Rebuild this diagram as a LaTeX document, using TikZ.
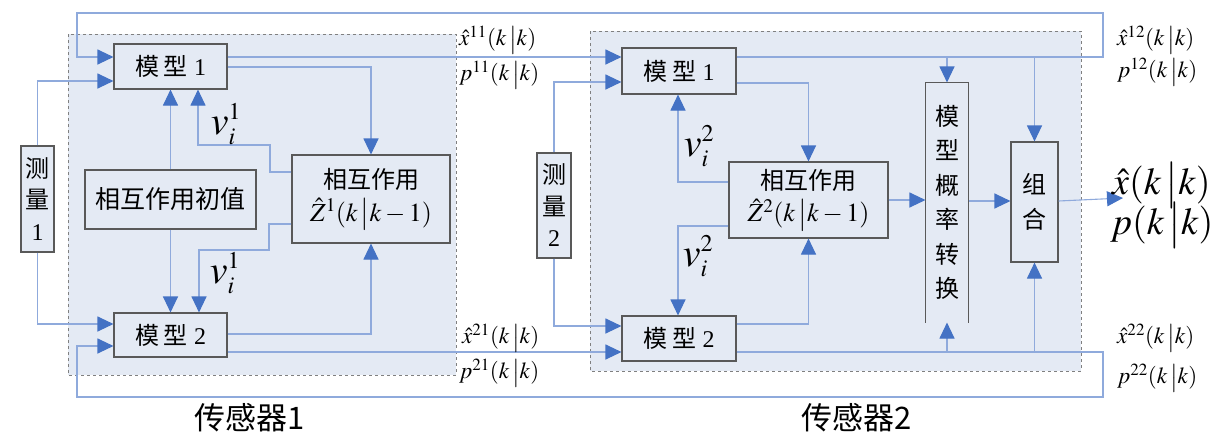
\documentclass[tikz,border=0pt]{standalone}
\usepackage{mathptmx}
\usepackage[no-math]{fontspec}
\setmainfont{Liberation Serif}
\newfontfamily\cjk{Noto Sans CJK SC}
\usetikzlibrary{arrows.meta}
\definecolor{lnblue}{HTML}{8FAADC}
\definecolor{arrblue}{HTML}{4472C4}
\definecolor{fillblue}{HTML}{E4EAF4}
\definecolor{boxgray}{HTML}{595959}
\definecolor{dashgray}{HTML}{808080}
\tikzset{
  ln/.style={draw=lnblue, line width=1.1pt},
  arr/.style={-{Triangle[length=16pt,width=15pt,color=arrblue]}},
  box/.style={draw=boxgray, line width=1.1pt, fill=fillblue, inner sep=0pt, align=center,
              font=\fontsize{24}{31.5}\selectfont},
  grp/.style={draw=dashgray, dashed, line width=1pt, fill=fillblue},
  lab/.style={anchor=west, inner sep=0pt, font=\fontsize{23}{23}\selectfont},
  biglab/.style={anchor=west, inner sep=0pt, font=\fontsize{38}{38}\selectfont},
  vlab/.style={inner sep=0pt, font=\fontsize{40}{40}\selectfont},
  sens/.style={inner sep=0pt, font=\cjk\fontsize{31}{31}\selectfont},
}
\begin{document}
\begin{tikzpicture}[x=1pt,y=-1pt]
\useasboundingbox (0,0) rectangle (1228,445);
% sensor groups
\draw[grp] (68,34) rectangle (456,375);
\draw[grp] (590,31) rectangle (1081,371);

% sensor 1 nodes
\node[box, minimum width=113pt, minimum height=45pt] (m11) at (170.5,66.5) {{\cjk 模\hspace{5pt}型}\hspace{6pt}1};
\node[box, minimum width=113pt, minimum height=44pt] (m21) at (170.5,335) {{\cjk 模\hspace{5pt}型}\hspace{6pt}2};
\node[box, minimum width=33pt, minimum height=106pt] (meas1) at (37.5,199) {{\cjk 测}\\{\cjk 量}\\1};
\node[box, minimum width=171pt, minimum height=59pt, font=\cjk\fontsize{25}{25}\selectfont] (init) at (170.5,199.5) {相互作用初值};
\node[box, minimum width=158pt, minimum height=88pt, font=\fontsize{24}{33}\selectfont] (Z1) at (371,199)
  {{\cjk 相互作用}\\{\fontsize{26}{33}\selectfont$\hat{Z}^{1}(k\,\big|k-1)$}};

% sensor 2 nodes
\node[box, minimum width=114pt, minimum height=46pt] (m12) at (679,71) {{\cjk 模\hspace{5pt}型}\hspace{6pt}1};
\node[box, minimum width=114pt, minimum height=45pt] (m22) at (679,338.5) {{\cjk 模\hspace{5pt}型}\hspace{6pt}2};
\node[box, minimum width=34pt, minimum height=105pt] (meas2) at (554,205.5) {{\cjk 测}\\{\cjk 量}\\2};
\node[box, minimum width=159pt, minimum height=76pt, font=\fontsize{24}{32}\selectfont] (Z2) at (808.5,200)
  {{\cjk 相互作用}\\{\fontsize{26}{32}\selectfont$\hat{Z}^{2}(k\,\big|k-1)$}};
\node[box, draw=none, minimum width=42pt, minimum height=239pt, font=\cjk\fontsize{24}{34.5}\selectfont] (prob) at (947,202.5)
  {模\\型\\概\\率\\转\\换};
\draw[draw=boxgray, line width=1.1pt] (prob.south west) |- (prob.north east) -- (prob.south east);
\node[box, minimum width=47pt, minimum height=120pt, font=\cjk\fontsize{24}{35}\selectfont] (comb) at (1034.5,202) {组\\合};

% junction coordinates
\coordinate (jTR) at (1103,57);
\coordinate (jTL) at (77,13);
\coordinate (jBR) at (1103,352);
\coordinate (jBL) at (77,397);
\coordinate (out) at (1123,198);

% sensor 1 connectors
\draw[ln,arr] (m11.east |- 0,57) -- (m12.west |- 0,57);
\draw[ln,arr] (m11.east |- 0,67) -| (Z1.north);
\draw[ln,arr] (m12.east |- 0,57) -- (jTR) |- (jTL) |- (m11.west |- 0,57);
\draw[ln,arr] (meas1.north) |- (m11.west |- 0,81);
\draw[ln,arr] (meas1.south) |- (m21.west |- 0,324);
\draw[ln,arr] (init.north) -- (init.north |- m11.south);
\draw[ln,arr] (init.south) -- (init.south |- m21.north);
\draw[ln,arr] (Z1.west |- 0,172) -- (270,172) |- (198,145) -- (198,0 |- m11.south);
\draw[ln,arr] (Z1.west |- 0,224) -- (269,224) |- (199,250) -- (199,0 |- m21.north);
\draw[ln,arr] (m21.east |- 0,334) -| (Z1.south);
\draw[ln,arr] (m21.east |- 0,352) -- (m22.west |- 0,352);
\draw[ln,arr] (m22.east |- 0,352) -- (jBR) |- (jBL) |- (m21.west |- 0,346);

% sensor 2 connectors
\draw[ln,arr] (meas2.north) |- (m12.west |- 0,82);
\draw[ln,arr] (meas2.south) |- (m22.west |- 0,326);
\draw[ln,arr] (m12.east |- 0,83) -| (Z2.north);
\draw[ln,arr] (Z2.west |- 0,182) -| (678,0 |- m12.south);
\draw[ln,arr] (Z2.west |- 0,226) -| (678,0 |- m22.north);
\draw[ln,arr] (m22.east |- 0,324) -| (Z2.south);
\draw[ln,arr] (Z2.east) -- (prob.west |- Z2.east);
\draw[ln,arr] (prob.east |- 0,201) -- (comb.west |- 0,201);
\draw[ln,arr] (comb.east |- 0,201) -- (out);
\draw[ln,arr] (prob.north |- jTR) -- (prob.north);
\draw[ln,arr] (comb.north |- jTR) -- (comb.north);
\draw[ln,arr] (prob.south |- jBR) -- (prob.south);
\draw[ln,arr] (comb.south |- jBR) -- (comb.south);

% v labels
\node[vlab] (v1a) at (226,124) {$v_{\scriptscriptstyle i}^{\scriptscriptstyle 1}$};
\node[vlab] (v1b) at (225,273) {$v_{\scriptscriptstyle i}^{\scriptscriptstyle 1}$};
\node[vlab] (v2a) at (699,146) {$v_{\scriptscriptstyle i}^{\scriptscriptstyle 2}$};
\node[vlab] (v2b) at (698,256) {$v_{\scriptscriptstyle i}^{\scriptscriptstyle 2}$};

% signal labels
\node[lab] (x11) at (459,40) {$\hat{x}^{11}(k\,\big|k)$};
\node[lab] (p11) at (459,75) {$p^{11}(k\,\big|k)$};
\node[lab] (x21) at (462,338) {$\hat{x}^{21}(k\,\big|k)$};
\node[lab] (p21) at (459,373) {$p^{21}(k\,\big|k)$};
\node[lab] (x12) at (1117,40) {$\hat{x}^{12}(k\,\big|k)$};
\node[lab] (p12) at (1117,72) {$p^{12}(k\,\big|k)$};
\node[lab] (x22) at (1117,338) {$\hat{x}^{22}(k\,\big|k)$};
\node[lab] (p22) at (1117,378) {$p^{22}(k\,\big|k)$};
\node[biglab] (xo) at (1112,185) {$\hat{x}(k\,\big|k)$};
\node[biglab] (po) at (1110,225) {$p(k\,\big|k)$};

% sensor captions
\node[sens] (s1) at (250,418) {传感器1};
\node[sens] (s2) at (857,418) {传感器2};
\end{tikzpicture}
\end{document}
